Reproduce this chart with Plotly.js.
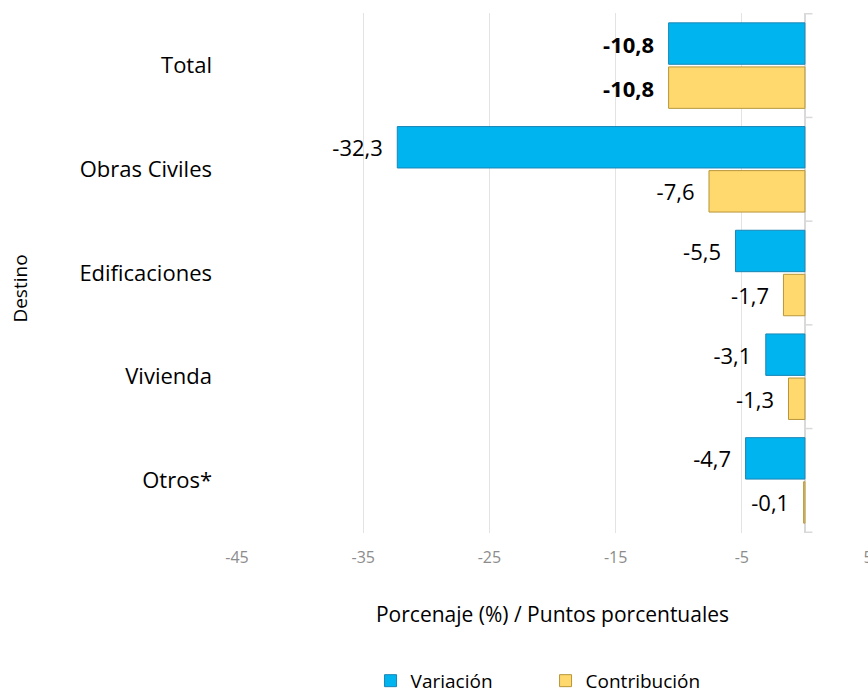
<!DOCTYPE html>
<html>
<head>
<meta charset="utf-8">
<script src="https://cdn.plot.ly/plotly-3.0.1.min.js"></script>
<style>html,body{margin:0;padding:0;background:#fff;}#chart{width:868px;height:694px;}</style>
</head>
<body>
<div id="chart"></div>
<script>
const categories = ["Total", "Obras Civiles", "Edificaciones", "Vivienda", "Otros*"];
const variacion = [-10.8, -32.3, -5.5, -3.1, -4.7];
const contribucion = [-10.8, -7.6, -1.7, -1.3, -0.1];
const seriesNames = ["Variación", "Contribución"];
const xTicks = [-45, -35, -25, -15, -5, 5];

const FONT = "'Open Sans', 'Noto Sans', sans-serif";
const PAD = "\u00a0\u00a0";
const labelTpl = categories.map(c => c === "Total" ? "<b>%{x:.1f}</b>" + PAD : "%{x:.1f}" + PAD);

const traces = [
  {
    type: "bar", orientation: "h", name: seriesNames[0],
    y: categories, x: variacion,
    marker: {color: "#00B4F0", line: {color: "#1A86B5", width: 1}},
    texttemplate: labelTpl, textposition: "outside", cliponaxis: false,
    textfont: {family: FONT, size: 22, color: "#000"},
    hoverinfo: "x+y"
  },
  {
    type: "bar", orientation: "h", name: seriesNames[1],
    y: categories, x: contribucion,
    marker: {color: "#FFD86E", line: {color: "#B8963A", width: 1}},
    texttemplate: labelTpl, textposition: "outside", cliponaxis: false,
    textfont: {family: FONT, size: 22, color: "#000"},
    hoverinfo: "x+y"
  }
];

const shapes = [];
for (let k = 0; k <= categories.length; k++) {
  shapes.push({type: "line", xref: "x", yref: "y", x0: 0, x1: 0.6, y0: k - 0.5, y1: k - 0.5,
    line: {color: "#D9D9D9", width: 1.5}});
}

const layout = {
  width: 868, height: 694,
  margin: {l: 237, r: 0, t: 13, b: 161},
  paper_bgcolor: "#fff", plot_bgcolor: "#fff",
  font: {family: FONT, color: "#000"},
  separators: ",.",
  barmode: "group", bargap: 0.15, bargroupgap: 0.06,
  showlegend: true,
  legend: {orientation: "h", xref: "paper", yref: "container",
    x: 0.489, xanchor: "center", y: 0.019, yanchor: "middle",
    font: {family: FONT, size: 19, color: "#000"}, traceorder: "normal",
    itemwidth: 30, entrywidth: 130, entrywidthmode: "pixels"},
  xaxis: {
    range: [-45, 5], tickvals: xTicks, ticktext: xTicks.map(String),
    showgrid: true, gridcolor: "#E3E3E3", gridwidth: 1,
    zeroline: true, zerolinecolor: "#D9D9D9", zerolinewidth: 1.5,
    showline: false, ticks: "", ticklabeloverflow: "allow",
    tickfont: {family: FONT, size: 16, color: "#8C8C8C"},
    ticklabelstandoff: 13,
    title: {text: "Porcenaje (%) / Puntos porcentuales", font: {family: FONT, size: 21, color: "#000"}, standoff: 40},
    fixedrange: true
  },
  yaxis: {
    type: "category", autorange: "reversed",
    showgrid: false, zeroline: false, showline: false, ticks: "",
    tickfont: {family: FONT, size: 22, color: "#000"},
    ticklabelstandoff: 24,
    fixedrange: true
  },
  annotations: [
    {text: "Destino", xref: "paper", yref: "paper", x: (20 - 237) / 631, y: 0.47,
     xanchor: "center", yanchor: "middle", textangle: -90, showarrow: false,
     font: {family: FONT, size: 19, color: "#000"}}
  ],
  shapes: shapes
};

Plotly.newPlot("chart", traces, layout, {displayModeBar: false, staticPlot: true});
</script>
</body>
</html>
